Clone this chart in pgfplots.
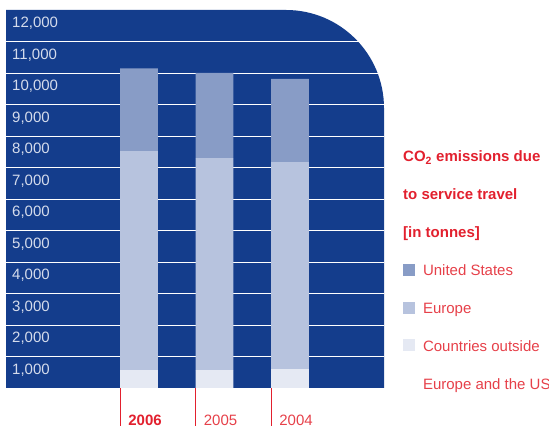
\documentclass[border=0pt]{standalone}
\usepackage{pgfplots}
\pgfplotsset{compat=1.18}
\usepackage{fontspec}
\setmainfont{Liberation Sans}
\definecolor{panel}{HTML}{143D8C}
\definecolor{usc}{HTML}{889CC6}
\definecolor{euc}{HTML}{B7C3DE}
\definecolor{otc}{HTML}{E5E9F3}
\definecolor{redt}{HTML}{E2202E}
\definecolor{redl}{HTML}{E64049}
\definecolor{tickc}{HTML}{D5DCEC}
\begin{document}
\begin{tikzpicture}[font=\fontsize{15}{18}\selectfont]
\fill[panel] (0pt,0pt) -- (0pt,378pt) -- (280pt,378pt) arc[start angle=90,end angle=0,radius=98pt] -- (378pt,0pt) -- cycle;
\begin{axis}[
  name=ax, at={(0pt,0pt)}, anchor=south west,
  width=378pt, height=378pt, scale only axis,
  xmin=-1.762, xmax=3.245, ymin=0, ymax=12000,
  ybar stacked, bar width=0.5,
  axis line style={draw=none},
  clip=false,
  tick align=outside, major tick length=38pt,
  xtick pos=bottom, ytick pos=left,
  xtick={-0.25,0.75,1.75},
  xticklabels={\textcolor{redt}{\bfseries 2006},2005,2004},
  xtick style={draw=redt, line width=0.8pt},
  xticklabel style={anchor=base west, inner sep=0pt, text=redl, xshift=8pt},
  ytick={570,1570,...,11570},
  yticklabels={{1,000},{2,000},{3,000},{4,000},{5,000},{6,000},{7,000},{8,000},{9,000},{10,000},{11,000},{12,000}},
  ytick style={draw=none},
  yticklabel style={anchor=west, inner sep=0pt, text=tickc, xshift=44pt},
  extra y ticks={1000,2000,...,11000},
  extra y tick labels={},
  extra y tick style={grid=major, major grid style={white, line width=0.8pt}, ytick style={draw=none}},
  legend image code/.code={\fill[#1, draw=none] (0pt,0pt) rectangle (12pt,12pt);},
  legend cell align=left,
  legend style={at={(1,0)}, anchor=south west, xshift=19pt, yshift=-1.3pt,
    draw=none, fill=none, inner sep=0pt, outer sep=0pt, row sep=25.8pt, column sep=8pt,
    nodes={inner sep=0pt, outer sep=0pt, text height=12pt, text depth=0pt, text=redl, anchor=base west}},
]
\addplot[fill=otc, draw=none, forget plot] coordinates {(0,570) (1,570) (2,600)};
\addplot[fill=euc, draw=none, forget plot] coordinates {(0,6950) (1,6730) (2,6570)};
\addplot[fill=usc, draw=none, forget plot] coordinates {(0,2630) (1,2700) (2,2640)};
\addlegendimage{fill=usc}\addlegendentry{United States}
\addlegendimage{fill=euc}\addlegendentry{Europe}
\addlegendimage{fill=otc}\addlegendentry{Countries outside}
\addlegendimage{empty legend}\addlegendentry{Europe and the US}
\end{axis}
\node[anchor=base west, inner sep=0pt, text=redt, font=\fontsize{15}{18}\selectfont\bfseries] at ([xshift=19pt,yshift=226pt]ax.south east) {CO\textsubscript{2} emissions due};
\node[anchor=base west, inner sep=0pt, text=redt, font=\fontsize{15}{18}\selectfont\bfseries] at ([xshift=19pt,yshift=188.2pt]ax.south east) {to service travel};
\node[anchor=base west, inner sep=0pt, text=redt, font=\fontsize{15}{18}\selectfont\bfseries] at ([xshift=19pt,yshift=150.4pt]ax.south east) {[in tonnes]};
\pgfresetboundingbox
\path[use as bounding box] ([xshift=-6pt,yshift=-42pt]ax.south west) rectangle ([xshift=165pt,yshift=10pt]ax.north east);
\end{tikzpicture}
\end{document}
